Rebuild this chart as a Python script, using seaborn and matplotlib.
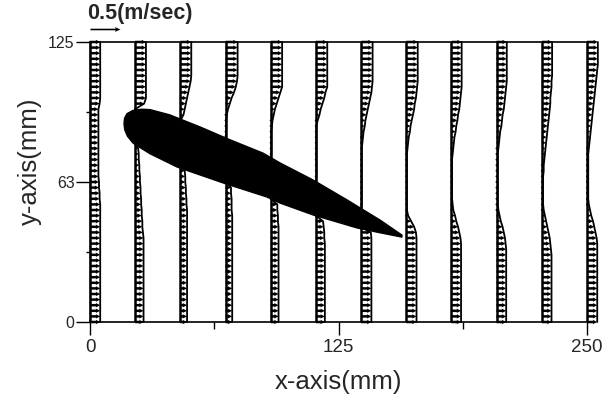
import numpy as np
import pandas as pd
import matplotlib
matplotlib.use("Agg")
import matplotlib.pyplot as plt
import seaborn as sns

# measuring stations (mm) and probe heights (mm)
stations = [0.0, 22.7, 45.5, 68.2, 90.9, 113.6, 136.4, 159.1, 181.8, 204.5, 227.3, 250.0]
y_probe = [0.0, 2.5, 5.0, 7.5, 10.0, 12.5, 15.0, 17.5, 20.0, 22.5,
           25.0, 27.5, 30.0, 32.5, 35.0, 37.5, 40.0, 42.5, 45.0, 47.5,
           50.0, 52.5, 55.0, 57.5, 60.0, 62.5, 65.0, 67.5, 70.0, 72.5,
           75.0, 77.5, 80.0, 82.5, 85.0, 87.5, 90.0, 92.5, 95.0, 97.5,
           100.0, 102.5, 105.0, 107.5, 110.0, 112.5, 115.0, 117.5, 120.0, 122.5,
           125.0]

# streamwise velocity (cm/s), bottom -> top
# (0 where the probe point sits inside the airfoil)
u_x000 = [17] * 22 + [16, 16, 15, 15] + [14] * 13 + [16] + [17] * 11
u_x023 = [14] * 16 + [13, 12, 12, 11, 11, 10, 10, 9, 9, 8, 8, 7, 7, 6, 6, 5] + [0] * 7 + [15] + [18] * 11
u_x045 = [11] * 21 + [10, 10, 9, 9, 8, 8, 7] + [0] * 9 + [5, 7, 9, 11, 13, 15, 17] + [18] * 7
u_x068 = [11] * 20 + [10, 10, 10, 9, 9] + [0] * 9 + [1, 1, 1, 2, 4, 7, 10, 14, 17, 19] + [20] * 7
u_x091 = [13] * 18 + [12, 12, 11, 11] + [0] * 8 + [1, 1, 1, 1, 1, 2, 3, 5, 7, 10, 13, 16] + [19] * 9
u_x114 = [15] * 15 + [14, 14, 13, 12] + [0] * 7 + [1] * 9 + [1, 3, 6, 8, 11, 14, 16, 19] + [19] * 8
u_x136 = [17] * 16 + [16] + [0] * 4 + [1] * 11 + [2, 3, 4, 6, 7, 9, 11, 13, 15, 17, 18] + [19] * 8
u_x159 = [17] * 16 + [16, 13, 8, 3] + [1] * 11 + [2, 3, 4, 6, 7, 9, 11, 13, 14, 16, 17, 18] + [19] * 8
u_x182 = [16] * 15 + [15, 13, 11, 8, 6, 3, 2] + [1] * 8 + [2, 3, 4, 5, 7, 8, 10, 11, 13, 14, 15, 16] + [17] * 9
u_x205 = [16] * 14 + [15, 14, 12, 10, 7, 5, 3] + [2] * 10 + [3, 4, 5, 6, 8, 9, 10, 12, 13, 14, 15, 16] + [17] * 8
u_x227 = [16] * 13 + [15, 14, 13, 11, 9, 7, 5, 3] + [2] * 6 + [3, 3, 4, 5, 6, 7, 8, 9, 10, 11, 12, 13, 14, 14, 15, 16, 16] + [17] * 7
u_x250 = [17] * 15 + [16, 14, 12, 10, 7, 5, 3] + [2] * 9 + [3, 4, 5, 6, 7, 8, 9, 10, 11, 12, 13, 14, 15, 16, 17] + [18] * 5

u_profiles = [u_x000, u_x023, u_x045, u_x068, u_x091, u_x114,
              u_x136, u_x159, u_x182, u_x205, u_x227, u_x250]

# airfoil outline (mm)
airfoil_x = [17.1, 17.4, 18.6, 21.5, 26.0, 30.2, 40.0, 55.3, 70.0, 87.0, 95.6, 112.2, 129.3, 145.9, 156.9,
             156.9, 145.0, 134.3, 112.2, 95.6, 89.0, 66.9, 43.8, 30.0, 21.6, 18.8, 17.5]
airfoil_y = [88.5, 91.0, 93.0, 94.4, 95.0, 94.8, 92.5, 87.1, 81.5, 75.4, 71.0, 63.4, 54.5, 45.5, 38.8,
             37.9, 40.0, 42.0, 47.8, 53.1, 55.8, 62.1, 69.2, 75.2, 79.9, 83.0, 85.8]

key_u = 0.5  # m/s
MM_PER_MS = 30.2  # arrow length on the x axis for 1 m/s

frames = []
for xs, u in zip(stations, u_profiles):
    assert len(u) == len(y_probe)
    frames.append(pd.DataFrame({"station": xs, "y": y_probe, "u": np.array(u) / 100.0}))
df = pd.concat(frames, ignore_index=True)
df["tip"] = df["station"] + df["u"] * MM_PER_MS

sns.set_style("ticks")
plt.rcParams['font.family'] = ['Liberation Sans', 'DejaVu Sans']

fig = plt.figure(figsize=(6.1, 3.98), dpi=100)
ax = fig.add_axes([90 / 610, 76 / 398, 503 / 610, 280 / 398])

arrow_kw = dict(angles='xy', scale_units='x', scale=1 / MM_PER_MS, units='dots',
                width=2.5, headwidth=1.8, headlength=1.8, headaxislength=1.6,
                minlength=0.9, color='black', clip_on=False, zorder=3)

ax.quiver(df["station"], df["y"], df["u"], np.zeros(len(df)), **arrow_kw)
ax.vlines(stations, 0, 125, color='black', lw=1.8, zorder=3)
sns.lineplot(data=df, x="tip", y="y", units="station", estimator=None, sort=False,
             orient="y", color="black", lw=1.3, legend=False, ax=ax)
for ln in ax.lines:
    ln.set_clip_on(False)

ax.fill(airfoil_x, airfoil_y, color='black', zorder=5)

# velocity key
ax.quiver([0.0], [130.8], [key_u], [0.0], angles='xy', scale_units='x', scale=1 / MM_PER_MS,
          units='dots', width=1.6, headwidth=3.0, headlength=3.5, headaxislength=3.0,
          color='black', clip_on=False)
ax.text(-1.5, 133.0, "0.5(m/sec)", ha='left', va='bottom', fontsize=15.5,
        fontweight='bold', clip_on=False)

ax.set_xlim(0, 253)
ax.set_ylim(0, 125)
ax.spines['right'].set_visible(False)
for s in ['left', 'top', 'bottom']:
    ax.spines[s].set_linewidth(1.2)
    ax.spines[s].set_color('black')

ax.set_xticks([0, 125, 250])
ax.set_xticklabels(['0', '125', '250'])
ax.set_xticks([62.5, 187.5], minor=True)
ax.set_yticks([0, 62.5, 125])
ax.set_yticklabels(['0', '63', '125'])
ax.set_yticks([31.25, 93.75], minor=True)

ax.tick_params(axis='x', which='major', direction='out', length=9, width=1, labelsize=13.5, pad=3, color='black')
ax.tick_params(axis='x', which='minor', direction='out', length=5, width=1, color='black')
ax.tick_params(axis='y', which='major', direction='out', length=10, width=1, labelsize=11.5, pad=1, color='black')
ax.tick_params(axis='y', which='minor', direction='out', length=3, width=1, color='black')

ax.set_xlabel('x-axis(mm)', fontsize=18.5)
ax.xaxis.set_label_coords(0.494, -0.171)
ax.set_ylabel('y-axis(mm)', fontsize=18.5)
ax.yaxis.set_label_coords(-0.095, 0.575)

fig.savefig('out.png', dpi=100)
